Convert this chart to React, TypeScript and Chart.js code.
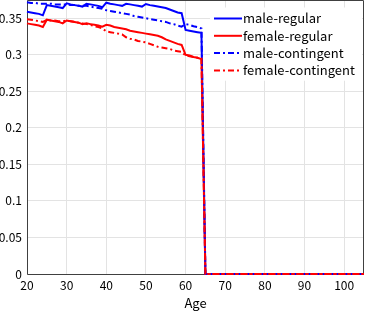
import React, { useEffect, useRef } from "react";
import { Chart, registerables } from "chart.js";

Chart.register(...registerables);

const ages = [
  20, 21, 22, 23, 24, 25, 26, 27, 28, 29, 30, 31, 32, 33, 34, 35, 36, 37, 38, 39,
  40, 41, 42, 43, 44, 45, 46, 47, 48, 49, 50, 51, 52, 53, 54, 55, 56, 57, 58, 59,
  60, 61, 62, 63, 64, 65, 66, 67, 68, 69, 70, 71, 72, 73, 74, 75, 76, 77, 78, 79,
  80, 81, 82, 83, 84, 85, 86, 87, 88, 89, 90, 91, 92, 93, 94, 95, 96, 97, 98, 99,
  100, 101, 102, 103, 104, 105,
];

const maleRegular = [
  0.359, 0.358, 0.357, 0.356, 0.354,
  0.368, 0.367, 0.366, 0.365, 0.364,
  0.3705, 0.369, 0.368, 0.367, 0.366,
  0.3698, 0.369, 0.368, 0.367, 0.365,
  0.3713, 0.370, 0.369, 0.368, 0.367,
  0.3698, 0.369, 0.368, 0.367, 0.366,
  0.3695, 0.368, 0.367, 0.366, 0.365,
  0.364, 0.362, 0.360, 0.358, 0.357,
  0.334, 0.333, 0.332, 0.331, 0.330,
  0, 0, 0, 0, 0, 0, 0, 0, 0, 0, 0, 0, 0, 0, 0, 0, 0, 0, 0, 0,
  0, 0, 0, 0, 0, 0, 0, 0, 0, 0, 0, 0, 0, 0, 0, 0, 0, 0, 0, 0, 0,
];

const femaleRegular = [
  0.343, 0.342, 0.341, 0.340, 0.338,
  0.348, 0.347, 0.346, 0.345, 0.343,
  0.347, 0.346, 0.345, 0.344, 0.342,
  0.343, 0.342, 0.341, 0.340, 0.3385,
  0.341, 0.340, 0.338, 0.337, 0.336,
  0.335, 0.333, 0.332, 0.331, 0.330,
  0.329, 0.328, 0.327, 0.326, 0.324,
  0.321, 0.319, 0.317, 0.315, 0.3135,
  0.300, 0.299, 0.297, 0.296, 0.294,
  0, 0, 0, 0, 0, 0, 0, 0, 0, 0, 0, 0, 0, 0, 0, 0, 0, 0, 0, 0,
  0, 0, 0, 0, 0, 0, 0, 0, 0, 0, 0, 0, 0, 0, 0, 0, 0, 0, 0, 0, 0,
];

const maleContingent = [
  0.372, 0.371, 0.371, 0.370, 0.370,
  0.370, 0.370, 0.369, 0.369, 0.369,
  0.369, 0.368, 0.368, 0.367, 0.367,
  0.367, 0.366, 0.365, 0.364, 0.363,
  0.361, 0.360, 0.359, 0.358, 0.357,
  0.356, 0.355, 0.353, 0.352, 0.351,
  0.350, 0.349, 0.348, 0.347, 0.346,
  0.345, 0.343, 0.342, 0.340, 0.3385,
  0.342, 0.341, 0.339, 0.338, 0.336,
  0, 0, 0, 0, 0, 0, 0, 0, 0, 0, 0, 0, 0, 0, 0, 0, 0, 0, 0, 0,
  0, 0, 0, 0, 0, 0, 0, 0, 0, 0, 0, 0, 0, 0, 0, 0, 0, 0, 0, 0, 0,
];

const femaleContingent = [
  0.3485, 0.348, 0.347, 0.346, 0.345,
  0.3477, 0.347, 0.347, 0.346, 0.346,
  0.3467, 0.346, 0.345, 0.344, 0.343,
  0.342, 0.341, 0.339, 0.338, 0.336,
  0.332, 0.331, 0.330, 0.329, 0.328,
  0.324, 0.322, 0.321, 0.319, 0.318,
  0.317, 0.315, 0.313, 0.311, 0.310,
  0.309, 0.308, 0.306, 0.305, 0.304,
  0.299, 0.298, 0.297, 0.296, 0.295,
  0, 0, 0, 0, 0, 0, 0, 0, 0, 0, 0, 0, 0, 0, 0, 0, 0, 0, 0, 0,
  0, 0, 0, 0, 0, 0, 0, 0, 0, 0, 0, 0, 0, 0, 0, 0, 0, 0, 0, 0, 0,
];

const xTicks = [20, 30, 40, 50, 60, 70, 80, 90, 100];
const yTicks = [0, 0.05, 0.1, 0.15, 0.2, 0.25, 0.3, 0.35];
const xTitle = "Age";

const seriesNames = ["male-regular", "female-regular", "male-contingent", "female-contingent"];
const seriesValues = [maleRegular, femaleRegular, maleContingent, femaleContingent];
const seriesColors = ["#0000ff", "#ff0000", "#0000ff", "#ff0000"];
const seriesDash = [[], [], [6, 3, 2, 3], [6, 3, 2, 3]];

const FONT = "'Noto Sans CJK JP', 'Noto Sans', sans-serif";

const framePlugin = {
  id: "frame",
  beforeDatasetsDraw(chart: any) {
    const { ctx, chartArea } = chart;
    const l = Math.round(chartArea.left) + 0.5;
    const r = Math.round(chartArea.right) - 0.5;
    const t = Math.round(chartArea.top) + 0.5;
    const b = Math.round(chartArea.bottom) + 0.5;
    ctx.save();
    ctx.strokeStyle = "#404040";
    ctx.lineWidth = 1;
    ctx.beginPath();
    ctx.moveTo(l, t);
    ctx.lineTo(r, t);
    ctx.lineTo(r, b);
    ctx.lineTo(l, b);
    ctx.closePath();
    ctx.stroke();
    ctx.restore();
  },
};

const legendPlugin = {
  id: "customLegend",
  afterDatasetsDraw(chart: any) {
    const { ctx, chartArea } = chart;
    const x0 = chartArea.right - 150;
    const y0 = chartArea.top + 7.5;
    const rowH = 17.3;
    ctx.save();
    ctx.fillStyle = "#ffffff";
    ctx.fillRect(x0 - 4, y0, 152, rowH * 4 + 4);
    chart.data.datasets.forEach((ds: any, i: number) => {
      const cy = y0 + 11 + i * rowH;
      ctx.strokeStyle = ds.borderColor;
      ctx.lineWidth = 2;
      ctx.setLineDash(ds.borderDash || []);
      ctx.beginPath();
      ctx.moveTo(x0, cy);
      ctx.lineTo(x0 + 28, cy);
      ctx.stroke();
      ctx.setLineDash([]);
      ctx.fillStyle = "#000000";
      ctx.font = "13px " + FONT;
      ctx.textBaseline = "middle";
      ctx.textAlign = "left";
      ctx.fillText(ds.label, x0 + 29, cy);
    });
    ctx.restore();
  },
};

export default function App() {
  const ref = useRef<HTMLCanvasElement | null>(null);

  useEffect(() => {
    document.body.style.margin = "0";
    const canvas = ref.current;
    if (!canvas) return;
    const chart = new Chart(canvas, {
      type: "line",
      data: {
        datasets: seriesNames.map((name, i) => ({
          label: name,
          data: ages.map((a, j) => ({ x: a, y: seriesValues[i][j] })),
          borderColor: seriesColors[i],
          backgroundColor: seriesColors[i],
          borderWidth: 2,
          borderDash: seriesDash[i],
          pointRadius: 0,
          tension: 0,
          fill: false,
          clip: 2,
          order: seriesNames.length - i,
        })),
      },
      options: {
        animation: false,
        responsive: false,
        devicePixelRatio: 1,
        layout: { padding: { left: 0, right: 1, top: 0, bottom: 0 } },
        plugins: {
          legend: { display: false },
          tooltip: { enabled: false },
        },
        scales: {
          x: {
            type: "linear",
            min: 20,
            max: 105,
            afterBuildTicks: (scale: any) => {
              scale.ticks = xTicks.map((v) => ({ value: v }));
            },
            afterFit: (scale: any) => {
              scale.height = 37;
              scale.paddingLeft = 0;
              scale.paddingRight = 0;
            },
            grid: { color: "#e3e3e3", drawTicks: false },
            border: { display: false },
            ticks: {
              padding: 4,
              color: "#000000",
              font: { family: FONT, size: 12 },
              maxRotation: 0,
              autoSkip: false,
              callback: (v: any) => String(v),
            },
            title: {
              display: true,
              text: xTitle,
              color: "#000000",
              font: { family: FONT, size: 13 },
              padding: 0,
            },
          },
          y: {
            type: "linear",
            min: 0,
            max: 0.375,
            afterBuildTicks: (scale: any) => {
              scale.ticks = yTicks.map((v) => ({ value: v }));
            },
            afterFit: (scale: any) => {
              scale.width = 27;
              scale.paddingTop = 0;
              scale.paddingBottom = 0;
            },
            grid: { color: "#e3e3e3", drawTicks: false },
            border: { display: false },
            ticks: {
              padding: 5,
              color: "#000000",
              font: { family: FONT, size: 12 },
              autoSkip: false,
              callback: (v: any) => String(Number(Number(v).toFixed(2))),
            },
          },
        },
      },
      plugins: [framePlugin, legendPlugin],
    });
    return () => chart.destroy();
  }, []);

  return (
    <div style={{ width: 365, height: 311 }}>
      <canvas ref={ref} width={365} height={311} style={{ width: 365, height: 311, display: "block" }} />
    </div>
  );
}
